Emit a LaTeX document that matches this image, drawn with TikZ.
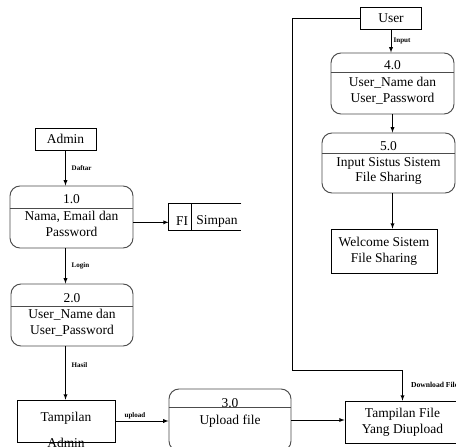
\documentclass[tikz,border=0pt]{standalone}
\usepackage{fontspec}
\setmainfont{Liberation Serif}
\usetikzlibrary{calc}
\tikzset{ proc/.style = { rectangle % process
        , rounded corners = 3mm
        , draw = black!70
        , line width = 0.8pt
        }
        , ent/.style = { rectangle % entity
        , draw
        , align = center
        , font = \fontsize{11.5}{13.6}\selectfont
        }
        , txt/.style = { align = center % text in a box
        , inner sep = 0pt
        , font = \fontsize{11.5}{13.6}\selectfont
        }
        , lbl/.style = { inner sep = 1pt % flow label
        , font = \fontsize{6}{7}\selectfont\bfseries
        }
        }

\begin{document}
\begin{tikzpicture}[>=latex, line width=0.6pt,
        arr/.style={draw=black, ->}]
        \path [fill=white] (0,0) rectangle (13.68,-13.38);
        \useasboundingbox (0,0) rectangle (13.68,-13.38);

        % entities
        \node [ent, minimum width=1.83cm, minimum height=0.66cm] (user) at (11.73,-0.54) {User};
        \node [ent, minimum width=1.83cm, minimum height=0.66cm] (admin) at (1.965,-4.17) {Admin};
        \node [ent, minimum width=2.94cm, minimum height=1.26cm] (tadmin) at (1.98,-12.63) {};
        \node [txt] (tadmintxt) at (1.98,-12.9) {Tampilan\\[8pt]Admin};
        \node [ent, minimum width=3.45cm, minimum height=1.26cm] (tfile) at (12.075,-12.66) {Tampilan File\\Yang Diupload};
        \node [ent, minimum width=3.18cm, minimum height=1.32cm] (welcome) at (11.52,-7.53) {Welcome Sistem\\File Sharing};

        % processes
        \node [proc, minimum width=3.69cm, minimum height=1.86cm] (p1) at (2.145,-6.51) {};
        \draw [draw=black!70, line width=0.8pt] ($(p1.north west)+(0,-0.69)$) -- ($(p1.north east)+(0,-0.69)$);
        \node [txt] (p1num) at (2.145,-5.97) {1.0};
        \node [txt] (p1txt) at (2.145,-6.72) {Nama, Email dan\\Password};

        \node [proc, minimum width=3.66cm, minimum height=1.86cm] (p2) at (2.16,-9.45) {};
        \draw [draw=black!70, line width=0.8pt] ($(p2.north west)+(0,-0.69)$) -- ($(p2.north east)+(0,-0.69)$);
        \node [txt] (p2num) at (2.16,-8.94) {2.0};
        \node [txt] (p2txt) at (2.16,-9.69) {User\_Name dan\\User\_Password};

        \node [proc, minimum width=3.66cm, minimum height=1.86cm] (p3) at (6.9,-12.6) {};
        \draw [draw=black!70, line width=0.8pt] ($(p3.north west)+(0,-0.57)$) -- ($(p3.north east)+(0,-0.57)$);
        \node [txt] (p3num) at (6.9,-12.08) {3.0};
        \node [txt] (p3txt) at (6.9,-12.63) {Upload file};

        \node [proc, minimum width=3.69cm, minimum height=1.83cm] (p4) at (11.775,-2.505) {};
        \draw [draw=black!70, line width=0.8pt] ($(p4.north west)+(0,-0.6)$) -- ($(p4.north east)+(0,-0.6)$);
        \node [txt] (p4num) at (11.775,-1.95) {4.0};
        \node [txt] (p4txt) at (11.775,-2.73) {User\_Name dan\\User\_Password};

        \node [proc, minimum width=3.99cm, minimum height=1.8cm] (p5) at (11.655,-4.89) {};
        \draw [draw=black!70, line width=0.8pt] ($(p5.north west)+(0,-0.63)$) -- ($(p5.north east)+(0,-0.63)$);
        \node [txt] (p5num) at (11.655,-4.38) {5.0};
        \node [txt] (p5txt) at (11.655,-5.13) {Input Sistus Sistem\\File Sharing};

        % data store
        \node [minimum width=2.16cm, minimum height=0.78cm, inner sep=0pt] (store) at (6.15,-6.51) {};
        \draw (store.north east) -- (store.north west) -- (store.south west) -- (store.south east);
        \draw ($(store.north west)+(0.69,0)$) -- ($(store.south west)+(0.69,0)$);
        \node [txt] (storeid) at (5.46,-6.64) {FI};
        \node [txt] (storename) at (6.51,-6.64) {Simpan};

        % flows
        \draw [arr] (admin.south) -- node [lbl, right=4pt] {Daftar} (admin.south |- p1.north);
        \draw [arr] ($(p1.east)+(0,-0.16)$) -- ($(p1.east -| store.west)+(0,-0.16)$);
        \draw [arr] (admin.south |- p1.south) -- node [lbl, right=4pt] {Login} (admin.south |- p2.north);
        \draw [arr] (admin.south |- p2.south) -- node [lbl, right=4pt, pos=0.35] {Hasil} (admin.south |- tadmin.north);
        \draw [arr] (tadmin.east) -- node [lbl, above, pos=0.37] {upload} (tadmin.east -| p3.west);
        \draw [arr] (p3.east) -- (p3.east -| tfile.west);
        \draw [arr] (user.south) -- node [lbl, right=1pt] {Input} (user.south |- p4.north);
        \draw [arr] (p4.south) -- (p4.south |- p5.north);
        \draw [arr] (p4.south |- p5.south) -- (p4.south |- welcome.north);
        \coordinate (turn) at (8.76,-11.1);
        \draw [arr] (user.west) -| (turn) -| node [lbl, pos=0.75, right=6pt, font=\fontsize{6.5}{7}\selectfont\bfseries] {Download File} (tfile.north);
\end{tikzpicture}
\end{document}
